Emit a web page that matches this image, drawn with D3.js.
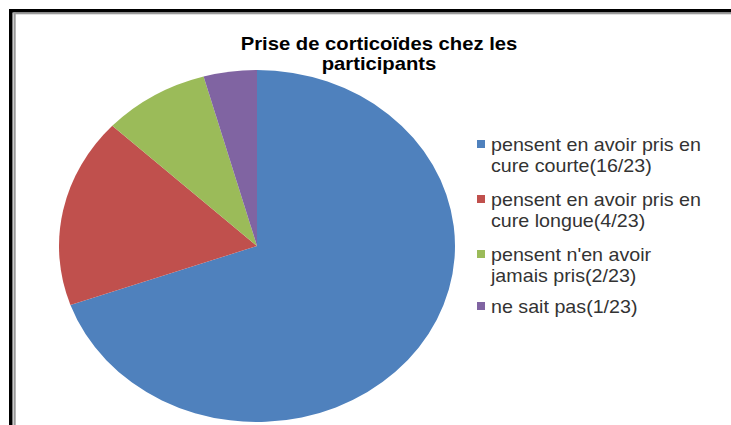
<!DOCTYPE html>
<html><head><meta charset="utf-8">
<script src="https://cdn.jsdelivr.net/npm/d3@7"></script>
<style>html,body{margin:0;padding:0;background:#fff;overflow:hidden}</style>
</head><body>
<svg id="chart" width="731" height="425"></svg>
<script>
const categories = [
  "pensent en avoir pris en cure courte(16/23)",
  "pensent en avoir pris en cure longue(4/23)",
  "pensent n'en avoir jamais pris(2/23)",
  "ne sait pas(1/23)"
];
const legendLines = [
  ["pensent en avoir pris en", "cure courte(16/23)"],
  ["pensent en avoir pris en", "cure longue(4/23)"],
  ["pensent n'en avoir", "jamais pris(2/23)"],
  ["ne sait pas(1/23)"]
];
const values = [16, 4, 2, 1];
const colors = ["#4F81BD", "#C0504D", "#9BBB59", "#8064A2"];
const titleLines = ["Prise de corticoïdes chez les", "participants"];

const svg = d3.select("#chart");
const sx = 1.125;

// frame
svg.append("rect").attr("x", 9).attr("y", 9).attr("width", 740).attr("height", 3.5).attr("fill", "#000");
svg.append("rect").attr("x", 9).attr("y", 9).attr("width", 3.5).attr("height", 430).attr("fill", "#000");
svg.append("rect").attr("x", 13.5).attr("y", 12.5).attr("width", 740).attr("height", 1.8).attr("fill", "#9a9a9a");
svg.append("rect").attr("x", 13.5).attr("y", 12.5).attr("width", 2.2).attr("height", 430).attr("fill", "#9a9a9a");

// title
const title = svg.append("g");
titleLines.forEach((t, i) => {
  title.append("text")
    .attr("transform", `translate(379,${50 + i * 20}) scale(${sx},1)`)
    .attr("text-anchor", "middle")
    .attr("font-family", "Liberation Sans, Arial, sans-serif")
    .attr("font-weight", "bold")
    .attr("font-size", 18)
    .attr("fill", "#000")
    .text(t);
});

// pie
const r = 176;
const pie = d3.pie().sort(null).value(d => d);
const arc = d3.arc().innerRadius(0).outerRadius(r);
const color = d3.scaleOrdinal().domain(categories).range(colors);
const g = svg.append("g").attr("transform", `translate(257,246) scale(${sx},1)`);
g.selectAll("path")
  .data(pie(values))
  .join("path")
  .attr("d", arc)
  .attr("fill", (d, i) => color(categories[i]));

// legend
const legendY = [140, 195, 250, 302];
const leg = svg.append("g");
legendLines.forEach((lines, i) => {
  leg.append("rect").attr("x", 477).attr("y", legendY[i]).attr("width", 8).attr("height", 8)
    .attr("fill", color(categories[i]));
  lines.forEach((t, j) => {
    leg.append("text")
      .attr("transform", `translate(491,${legendY[i] + 11 + j * 21}) scale(${sx},1)`)
      .attr("font-family", "Liberation Sans, Arial, sans-serif")
      .attr("font-size", 17.5)
      .attr("fill", "#333")
      .text(t);
  });
});
</script>
</body></html>
